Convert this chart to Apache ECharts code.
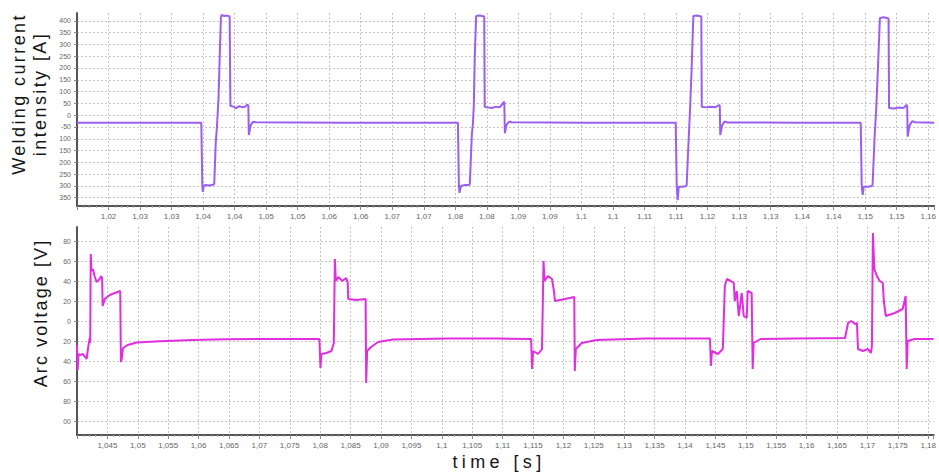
<!DOCTYPE html>
<html>
<head>
<meta charset="utf-8">
<script src="https://cdn.jsdelivr.net/npm/echarts@6/dist/echarts.min.js"></script>
<style>
  html, body { margin: 0; padding: 0; background: #ffffff; }
  #chart { width: 939px; height: 474px; }
</style>
</head>
<body>
<div id="chart"></div>
<script>
// Welding current trace (time in s, current in A)
const currentTime = [
  1.0160, 1.0365, 1.03667, 1.03675, 1.03691, 1.03716, 1.03782, 1.03856, 1.03864, 1.03888,
  1.03908, 1.03921, 1.03934, 1.03954, 1.03974, 1.03987, 1.04028, 1.04077, 1.04118, 1.04130,
  1.04176, 1.04225, 1.04274, 1.04323, 1.04372, 1.04413, 1.04426, 1.04434, 1.04465, 1.04503,
  1.04553, 1.06000, 1.07883,
  1.07899, 1.07910, 1.07932, 1.07997, 1.08071, 1.08079, 1.08113, 1.08129, 1.08145, 1.08161,
  1.08183, 1.08243, 1.08317, 1.08325, 1.08375, 1.08440, 1.08506, 1.08571, 1.08629, 1.08648,
  1.08657, 1.08686, 1.08730, 1.08768, 1.10000, 1.11475,
  1.11492, 1.11508, 1.11525, 1.11590, 1.11648, 1.11656, 1.11689, 1.11713, 1.11738, 1.11766,
  1.11820, 1.11897, 1.11905, 1.11968, 1.12050, 1.12132, 1.12189, 1.12202, 1.12210, 1.12238,
  1.12279, 1.12328, 1.13500, 1.14527,
  1.14543, 1.14559, 1.14576, 1.14641, 1.14715, 1.14723, 1.14756, 1.14781, 1.14814, 1.14843,
  1.14904, 1.14986, 1.14994, 1.15068, 1.15150, 1.15232, 1.15281, 1.15293, 1.15301, 1.15330,
  1.15375, 1.15429, 1.15740
];
const currentValue = [
  -32, -32, -300, -325, -300, -296, -298, -294, -290, -120,
  -49, 10, 72, 250, 415, 425, 420, 422, 418, 40,
  36, 30, 38, 34, 36, 45, 40, -84, -42, -28,
  -30, -32, -32,
  -300, -329, -300, -296, -296, -290, -80, -40, 40, 250,
  420, 422, 418, 35, 33, 30, 36, 33, 52, 57,
  -77, -40, -27, -30, -32, -32,
  -300, -360, -303, -303, -300, -295, -100, 30, 200, 420,
  422, 418, 36, 33, 36, 34, 43, 40, -84, -45,
  -27, -31, -32, -32,
  -300, -338, -303, -303, -300, -292, -90, 20, 220, 412,
  415, 410, 30, 28, 32, 30, 43, 40, -91, -45,
  -26, -30, -32
];

// Arc voltage trace (time in s, voltage in V)
const voltageTime = [
  1.04000, 1.04011, 1.04025, 1.04049, 1.04098, 1.04158, 1.04185, 1.04209, 1.04217, 1.04226,
  1.04237, 1.04261, 1.04294, 1.04322, 1.04359, 1.04400, 1.04413, 1.04422, 1.04458, 1.04539,
  1.04621, 1.04711, 1.04722, 1.04735, 1.04757, 1.04833, 1.04981, 1.05356, 1.05896, 1.06451,
  1.06991, 1.07644, 1.07987,
  1.08004, 1.08020, 1.08102, 1.08184, 1.08224, 1.08241, 1.08257, 1.08298, 1.08363, 1.08429,
  1.08453, 1.08461, 1.08592, 1.08747, 1.08756, 1.08772, 1.08837, 1.08952, 1.09197, 1.10096,
  1.10913, 1.11468,
  1.11485, 1.11501, 1.11583, 1.11648, 1.11673, 1.11689, 1.11746, 1.11812, 1.11844, 1.11861,
  1.12024, 1.12179, 1.12187, 1.12204, 1.12302, 1.12547, 1.13364, 1.14410,
  1.14426, 1.14443, 1.14541, 1.14622, 1.14655, 1.14688, 1.14753, 1.14802, 1.14818, 1.14851,
  1.14884, 1.14933, 1.14966, 1.15015, 1.15031, 1.15096, 1.15113, 1.15129, 1.15243, 1.15815,
  1.16632,
  1.16681, 1.16730, 1.16796, 1.16828, 1.16845, 1.16926, 1.17008, 1.17057, 1.17074, 1.17090,
  1.17114, 1.17155, 1.17204, 1.17253, 1.17270, 1.17302, 1.17449, 1.17580, 1.17629, 1.17646,
  1.17662, 1.17776, 1.18087
];
const voltageValue = [
  -24, -49, -33, -34, -33, -38, -26, -17, -22, 67,
  50, 52, 44, 39, 41, 45, 42, 15, 22, 26,
  28, 30, -41, -38, -27, -24, -21.5, -20.3, -19, -18.3,
  -18, -18, -18,
  -47, -33, -32, -30, -22, 62, 40, 44, 40, 43,
  38, 22, 21, 22, -62, -30, -26, -21, -18.5, -17.5,
  -17.5, -18,
  -48, -30, -33, -28, 60, 40, 45, 42, 30, 20,
  22, 24, -50, -28, -22, -19, -17.5, -17.5,
  -45, -30, -33, -28, 35, 42, 40, 38, 20, 30,
  5, 28, 5, 3, 30, 28, -48, -22, -18, -17.5,
  -17,
  -2, 0, -3, -2, -28, -30, -28, -32, -25, 88,
  52, 45, 40, 38, 20, 5, 8, 12, 25, -48,
  -20, -18, -18
];

// Tick labels
const currentAxisLabels = ['1,02','1,03','1,03','1,04','1,04','1,05','1,05','1,06','1,06','1,07','1,07','1,08','1,08',
  '1,09','1,09','1,1','1,1','1,11','1,11','1,12','1,13','1,13','1,14','1,14','1,15','1,15','1,16'];
const voltageAxisLabels = ['1,045','1,05','1,055','1,06','1,065','1,07','1,075','1,08','1,085','1,09','1,095','1,1',
  '1,105','1,11','1,115','1,12','1,125','1,13','1,135','1,14','1,145','1,15','1,155','1,16','1,165','1,17','1,175','1,18'];
const currentTickValues = [400, 350, 300, 250, 200, 150, 100, 50, 0, -50, -100, -150, -200, -250, -300, -350];
const currentTickLabels = ['400','350','300','250','200','150','100','50','0','-50','100','150','200','250','300','350'];
const voltageTickValues = [80, 60, 40, 20, 0, -20, -40, -60, -80, -100];
const voltageTickLabels = ['80','60','40','20','0','20','40','60','80','00'];

const TOP_T0 = 1.016, TOP_STEP = 0.0052, TOP_T1 = 1.1574;
const BOT_T0 = 1.04, BOT_STEP = 0.005, BOT_T1 = 1.1809;

const zip = (a, b) => a.map((v, i) => [v, b[i]]);

const gridLine = { show: true, lineStyle: { color: '#c4c4c4', type: [2, 2], width: 1 }, showMaxLine: false };
const labelFont = 'Liberation Sans';

function xAxisCfg(grid, t0, step, t1, labels) {
  return {
    type: 'value', gridIndex: grid, min: t0, max: t1, interval: step,
    axisLine: { show: true, onZero: false, lineStyle: { color: '#555', width: 2 } },
    axisTick: { show: true, length: 4, lineStyle: { color: '#888' } },
    minorTick: { show: true, splitNumber: 5, length: 2, lineStyle: { color: '#aaa' } },
    axisLabel: {
      fontSize: 8, color: '#666', margin: 6, fontFamily: labelFont,
      showMinLabel: false, showMaxLabel: false,
      formatter: v => {
        const k = (v - t0) / step, i = Math.round(k);
        return Math.abs(k - i) < 0.05 && i >= 1 ? (labels[i - 1] || '') : '';
      }
    },
    splitLine: gridLine
  };
}

function yAxisCfg(grid, lo, hi, step, n, vals, labels) {
  return {
    type: 'value', gridIndex: grid, min: lo, max: hi, splitNumber: n,
    minInterval: step, maxInterval: step,
    axisLine: { show: true, onZero: false, lineStyle: { color: '#555', width: 2 } },
    axisTick: { show: true, length: 3, lineStyle: { color: '#888' } },
    axisLabel: {
      fontSize: 7, color: '#666', margin: 6, fontFamily: labelFont,
      showMinLabel: false, showMaxLabel: false,
      formatter: v => { const i = vals.indexOf(Math.round(v)); return i >= 0 ? labels[i] : ''; }
    },
    splitLine: gridLine
  };
}

// Axis titles are drawn with wide letter spacing
const titleSpacing = {
  'Welding current': 2.4,
  'intensity [A]': 2.4,
  'Arc voltage [V]': 2.1,
  'time [s]': 4.4
};
const titleStyle = (text, size) => ({
  text, fill: '#161616', font: size + 'px "Liberation Sans"', align: 'center', verticalAlign: 'middle', lineHeight: 21
});

const chart = echarts.init(document.getElementById('chart'), null, { renderer: 'svg' });

function spaceTitles() {
  document.querySelectorAll('#chart text').forEach(el => {
    const s = titleSpacing[el.textContent.trim()];
    if (s != null) {
      el.setAttribute('letter-spacing', s);
      el.style.letterSpacing = s + 'px';
    }
  });
}
chart.on('finished', spaceTitles);

chart.setOption({
  animation: false,
  backgroundColor: '#ffffff',
  grid: [
    { left: 77, right: 0, top: 13, height: 193 },
    { left: 77, right: 0, top: 227, height: 208 }
  ],
  xAxis: [
    xAxisCfg(0, TOP_T0, TOP_STEP, TOP_T1, currentAxisLabels),
    xAxisCfg(1, BOT_T0, BOT_STEP, BOT_T1, voltageAxisLabels)
  ],
  yAxis: [
    yAxisCfg(0, -385, 433, 50, 16, currentTickValues, currentTickLabels),
    yAxisCfg(1, -114, 94, 20, 10, voltageTickValues, voltageTickLabels)
  ],
  graphic: [
    { type: 'text', x: 29, y: 94, rotation: Math.PI / 2, style: titleStyle('Welding current\nintensity [A]', 18) },
    { type: 'text', x: 41, y: 313, rotation: Math.PI / 2, style: titleStyle('Arc voltage [V]', 18) },
    { type: 'text', x: 499, y: 462, style: titleStyle('time [s]', 18) }
  ],
  series: [
    {
      name: 'Welding current', type: 'line', xAxisIndex: 0, yAxisIndex: 0,
      data: zip(currentTime, currentValue), showSymbol: false, symbol: 'none',
      lineStyle: { color: '#9a5ff0', width: 2 }
    },
    {
      name: 'Arc voltage', type: 'line', xAxisIndex: 1, yAxisIndex: 1,
      data: zip(voltageTime, voltageValue), showSymbol: false, symbol: 'none',
      lineStyle: { color: '#e02ee0', width: 2 }
    }
  ]
});
spaceTitles();
setTimeout(spaceTitles, 50);
</script>
</body>
</html>
